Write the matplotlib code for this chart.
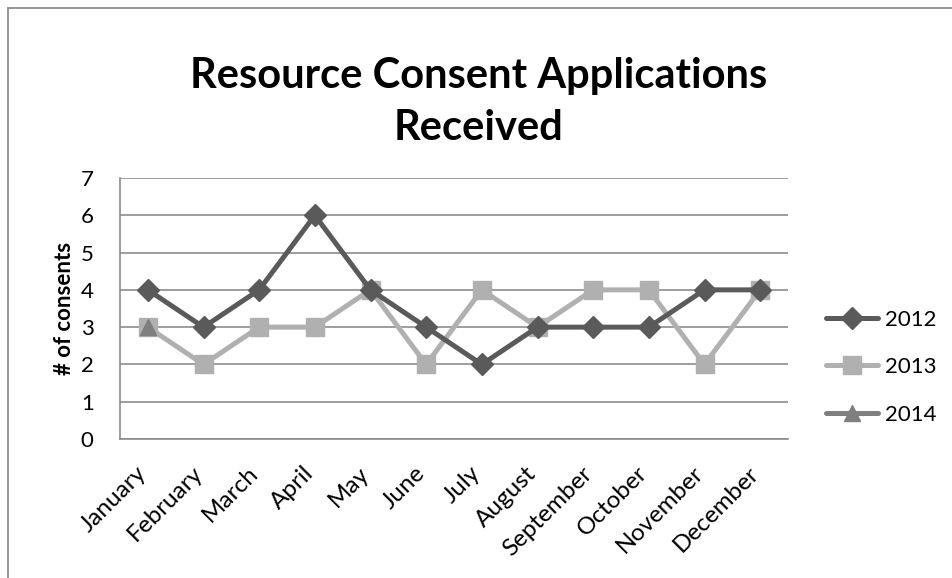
import matplotlib
matplotlib.use("Agg")
import matplotlib.pyplot as plt
import matplotlib.transforms as mtransforms
import numpy as np

months = ["January", "February", "March", "April", "May", "June", "July",
          "August", "September", "October", "November", "December"]
y2012 = [4, 3, 4, 6, 4, 3, 2, 3, 3, 3, 4, 4]
y2013 = [3, 2, 3, 3, 4, 2, 4, 3, 4, 4, 2, 4]
y2014 = [3]

plt.rcParams['font.family'] = ['Lato', 'DejaVu Sans']
FS = 16

fig = plt.figure(figsize=(9.52, 5.78), dpi=100)
# outer chart border (cropped at right/bottom like the original)
fig.patches.append(plt.Rectangle((7.5 / 952, -0.1), 2.0, 1.1 - 8.5 / 578,
                                 transform=fig.transFigure, fill=False,
                                 edgecolor="#8c8c8c", linewidth=1.3))

ax = fig.add_axes([120 / 952, 1 - 439 / 578, 668 / 952, 261 / 578])
x = np.arange(len(months))

ax.plot(x, y2012, color="#5a5a5a", lw=3.6, marker="D", ms=11.5, label="2012",
        solid_capstyle="round", zorder=3)
ax.plot(x, y2013, color="#b0b0b0", lw=3.6, marker="s", ms=12.5, label="2013",
        solid_capstyle="round", zorder=2)
ax.plot(x[:len(y2014)], y2014, color="#7f7f7f", lw=3.6, marker="^", ms=12,
        label="2014", solid_capstyle="round", zorder=4)

ax.set_xlim(-0.5, 11.5)
ax.set_ylim(0, 7)
ax.set_yticks(range(0, 8))
ax.yaxis.grid(True, color="#8c8c8c", lw=1.2)
ax.set_axisbelow(True)
for s in ["top", "right"]:
    ax.spines[s].set_visible(False)
for s in ["left", "bottom"]:
    ax.spines[s].set_color("#8c8c8c")
    ax.spines[s].set_linewidth(1.2)
ax.tick_params(axis="y", length=0, labelsize=FS, pad=19)
ax.tick_params(axis="x", length=0, labelsize=17.5, pad=17)
ax.set_xticks(x)
ax.set_xticklabels(months, rotation=45, ha="right", rotation_mode="anchor")
# nudge month labels a little left so they end under their category
shift = mtransforms.ScaledTranslation(-12 / 100, 0, fig.dpi_scale_trans)
for lbl in ax.get_xticklabels():
    lbl.set_transform(lbl.get_transform() + shift)
ax.set_ylabel("# of consents", fontsize=FS, fontweight="bold", labelpad=4)

fig.text(0.503, 1 - 102 / 578, "Resource Consent Applications\nReceived",
         ha="center", va="center", fontsize=30, fontweight="bold",
         linespacing=1.48)

ax.legend(loc="center left", bbox_to_anchor=(1.057, 0.275), frameon=False,
          fontsize=FS, handlelength=2.35, labelspacing=1.23,
          handletextpad=0.3, borderpad=0, borderaxespad=0)

fig.savefig("out.png", dpi=100)
